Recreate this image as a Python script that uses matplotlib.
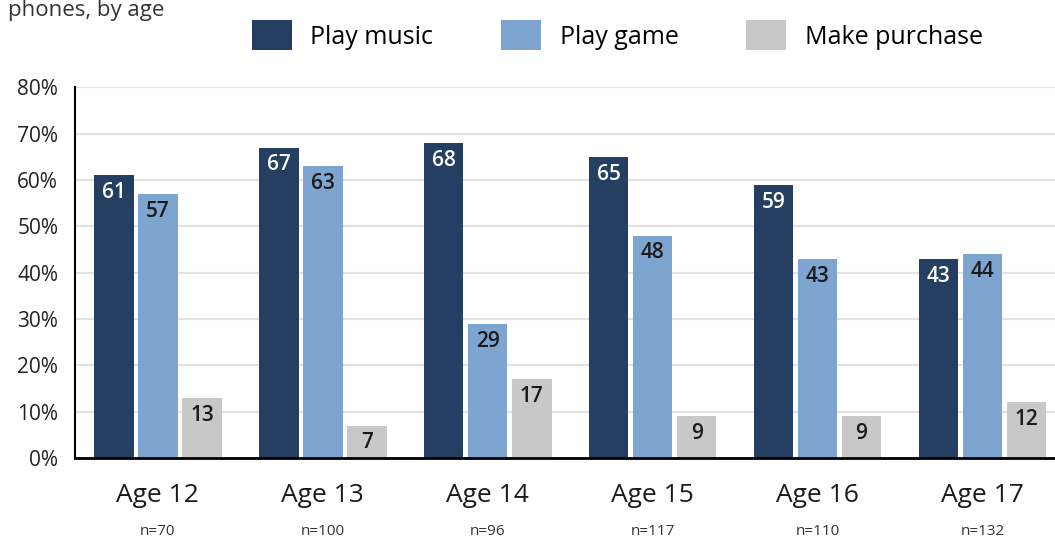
import numpy as np
import matplotlib.pyplot as plt
from matplotlib.patches import Patch

ages = ["Age 12", "Age 13", "Age 14", "Age 15", "Age 16", "Age 17"]
sizes = ["n=70", "n=100", "n=96", "n=117", "n=110", "n=132"]
play_music = [61, 67, 68, 65, 59, 43]
play_game = [57, 63, 29, 48, 43, 44]
make_purchase = [13, 7, 17, 9, 9, 12]
series_names = ["Play music", "Play game", "Make purchase"]
colors = ["#243f61", "#7ea5cf", "#c8c8c8"]
label_colors = ["white", "#1a1a1a", "#1a1a1a"]

plt.rcParams["font.family"] = ["Open Sans", "DejaVu Sans"]

fig = plt.figure(figsize=(10.55, 5.42), dpi=100)
ax = fig.add_axes([0.071, 0.155, 0.929, 0.684])

x = np.arange(len(ages))
width = 0.24
step = 0.267
for i, (vals, col, lc) in enumerate(zip([play_music, play_game, make_purchase],
                                         colors, label_colors)):
    pos = x + (i - 1) * step
    bars = ax.bar(pos, vals, width, color=col, zorder=3, label=series_names[i])
    for b, v in zip(bars, vals):
        ax.annotate(str(v), (b.get_x() + b.get_width() / 2, v),
                    xytext=(0, -5), textcoords="offset points",
                    ha="center", va="top", fontsize=15, fontweight="semibold",
                    color=lc, zorder=4)

ax.set_ylim(0, 80)
ax.set_xlim(-0.503, 5.44)
ax.set_yticks(np.arange(0, 81, 10))
ax.set_yticklabels(["{}%".format(t) for t in range(0, 81, 10)], fontsize=15,
                   color="#222222")
ax.yaxis.grid(True, color="#e2e2e2", lw=1.5, zorder=0)
ax.set_xticks(x)
ax.set_xticklabels(ages, fontsize=19, color="#1a1a1a")
ax.tick_params(axis="x", length=0, pad=18)
ax.tick_params(axis="y", length=0, pad=12)
for s in ["top", "right"]:
    ax.spines[s].set_visible(False)
ax.spines["left"].set_linewidth(1.5)
ax.spines["bottom"].set_linewidth(2)
ax.spines["left"].set_zorder(5)
ax.spines["bottom"].set_zorder(5)

for xi, n in zip(x, sizes):
    ax.annotate(n, (xi, 0), xycoords=("data", "axes fraction"),
                xytext=(0, -53), textcoords="offset points",
                ha="center", va="center", fontsize=11, color="#333333")

handles = [Patch(facecolor=c) for c in colors]
fig.legend(handles, series_names, loc="center", bbox_to_anchor=(0.585, 0.935),
           ncol=3, frameon=False, fontsize=18, handlelength=1.6,
           handleheight=1.45, columnspacing=2.7, handletextpad=0.75)

# title is cropped at the top edge in the source image
fig.text(0.008, 1.0, "phones, by age", fontsize=16, color="#333333",
         va="top", ha="left")

fig.savefig("out.png", dpi=100)
